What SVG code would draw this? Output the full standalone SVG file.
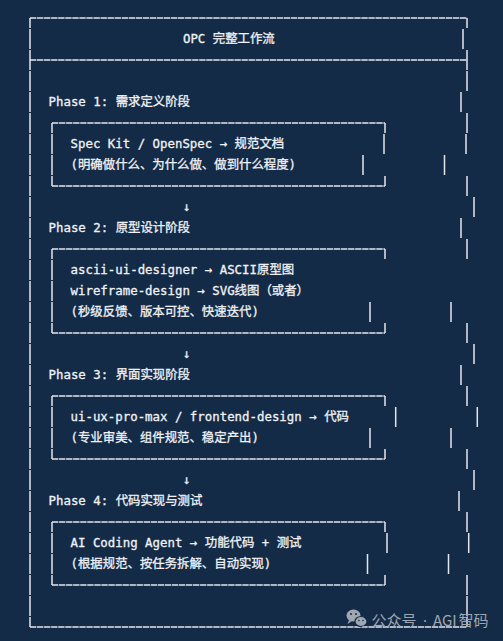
<svg xmlns="http://www.w3.org/2000/svg" width="503" height="641" viewBox="0 0 503 641">
<style>
.ln{fill:none;stroke:#e3e6ea;stroke-width:1.5;stroke-linecap:butt}
.h{stroke-dasharray:6.35 0.7}
.v{stroke-dasharray:20.2 0.8;stroke-dashoffset:10.1}
.t{font-family:"DejaVu Sans Mono","Noto Sans CJK SC",monospace;font-size:12.4px;fill:#f0f2f5;stroke:#f0f2f5;stroke-width:0.3}
.wm{font-family:"Noto Sans CJK SC","Noto Sans",sans-serif;font-size:15px;fill:#9fa7b1}
.dot{font-family:"Noto Sans",sans-serif;font-size:15px;fill:#9fa7b1}
</style>
<rect width="503" height="641" fill="#142b48"/>

<g id="outer-frame">
  <path class="ln h" d="M30 18H467M30 60H467M30 627H467"/>
  <path class="ln v" d="M30 18V627"/>
  <path class="ln" d="M467 18V28.1M463 28.9V49.1M467 49.9V70.1M467 70.9V91.1M461 91.9V112.1M467 112.9V133.1M466 133.9V154.1M444.5 154.9V175.1M467 175.9V196.1M474 196.9V217.1M461 217.9V238.1M467 238.9V259.1M451 301.9V322.1M467 322.9V343.1M474 343.9V364.1M461 364.9V385.1M467 385.9V406.1M477.3 406.9V427.1M451 427.9V448.1M467 448.9V469.1M474 469.9V490.1M459 490.9V511.1M467 511.9V532.1M468.7 532.9V553.1M448.5 553.9V574.1M467 574.9V595.1M467 595.9V616.1M467 616.9V627"/>
</g>

<g id="title">
  <text class="t" x="182.95" y="43.3">OPC 完整工作流</text>
</g>

<g id="phase1">
  <text class="t" x="48.5" y="106.3">Phase 1: 需求定义阶段</text>
  <path class="ln h" d="M52 123H385M52 186H385"/>
  <path class="ln v" d="M52 123V186"/>
  <path class="ln" d="M385 123V133.1M384 133.9V154.1M363 154.9V175.1M385 175.9V186"/>
  <text class="t" x="70.5" y="148.3">Spec Kit / OpenSpec → 规范文档</text>
  <text class="t" x="70.5" y="169.3">(明确做什么、为什么做、做到什么程度)</text>
</g>

<g id="phase2">
  <text class="t" x="48.5" y="232.3">Phase 2: 原型设计阶段</text>
  <path class="ln h" d="M52 249H385M52 333H385"/>
  <path class="ln v" d="M52 249V333"/>
  <path class="ln" d="M385 249V259.1M370 301.9V322.1M385 322.9V333"/>
  <text class="t" x="70.5" y="274.3">ascii-ui-designer → ASCII原型图</text>
  <text class="t" x="70.5" y="295.3">wireframe-design → SVG线图（或者）</text>
  <text class="t" x="70.5" y="316.3">(秒级反馈、版本可控、快速迭代)</text>
</g>

<g id="phase3">
  <text class="t" x="48.5" y="379.3">Phase 3: 界面实现阶段</text>
  <path class="ln h" d="M52 396H385M52 459H385"/>
  <path class="ln v" d="M52 396V459"/>
  <path class="ln" d="M385 396V406.1M395.7 406.9V427.1M370 427.9V448.1M385 448.9V459"/>
  <text class="t" x="70.5" y="421.3">ui-ux-pro-max / frontend-design → 代码</text>
  <text class="t" x="70.5" y="442.3">(专业审美、组件规范、稳定产出)</text>
</g>

<g id="phase4">
  <text class="t" x="48.5" y="505.3">Phase 4: 代码实现与测试</text>
  <path class="ln h" d="M52 522H385M52 585H385"/>
  <path class="ln v" d="M52 522V585"/>
  <path class="ln" d="M385 522V532.1M387 532.9V553.1M367.5 553.9V574.1M385 574.9V585"/>
  <text class="t" x="70.5" y="547.3">AI Coding Agent → 功能代码 + 测试</text>
  <text class="t" x="70.5" y="568.3">(根据规范、按任务拆解、自动实现)</text>
</g>

<g id="connectors">
  <text class="t" x="182.95" y="211.3">↓</text>
  <text class="t" x="182.95" y="358.3">↓</text>
  <text class="t" x="182.95" y="484.3">↓</text>
</g>

<g id="watermark">
  <ellipse cx="353.5" cy="615.5" rx="7" ry="6" fill="#9fa7b1"/>
  <path d="M349 620 L347.5 624 L352 621 Z" fill="#9fa7b1"/>
  <ellipse cx="361" cy="621.5" rx="6" ry="5" fill="#9fa7b1" stroke="#142b48" stroke-width="1.2"/>
  <path d="M364 625.5 L366 628.5 L361.5 626 Z" fill="#9fa7b1"/>
  <circle cx="351" cy="614" r="1" fill="#142b48"/>
  <circle cx="356" cy="614" r="1" fill="#142b48"/>
  <circle cx="359" cy="620.5" r="0.8" fill="#142b48"/>
  <circle cx="363" cy="620.5" r="0.8" fill="#142b48"/>
  <text class="wm" y="626"><tspan x="371.5">公众号</tspan></text>
  <text class="dot" x="425" y="626" text-anchor="middle">·</text>
  <text class="wm" y="626"><tspan x="433">AGI</tspan><tspan x="458.5">智码</tspan></text>
</g>
</svg>
